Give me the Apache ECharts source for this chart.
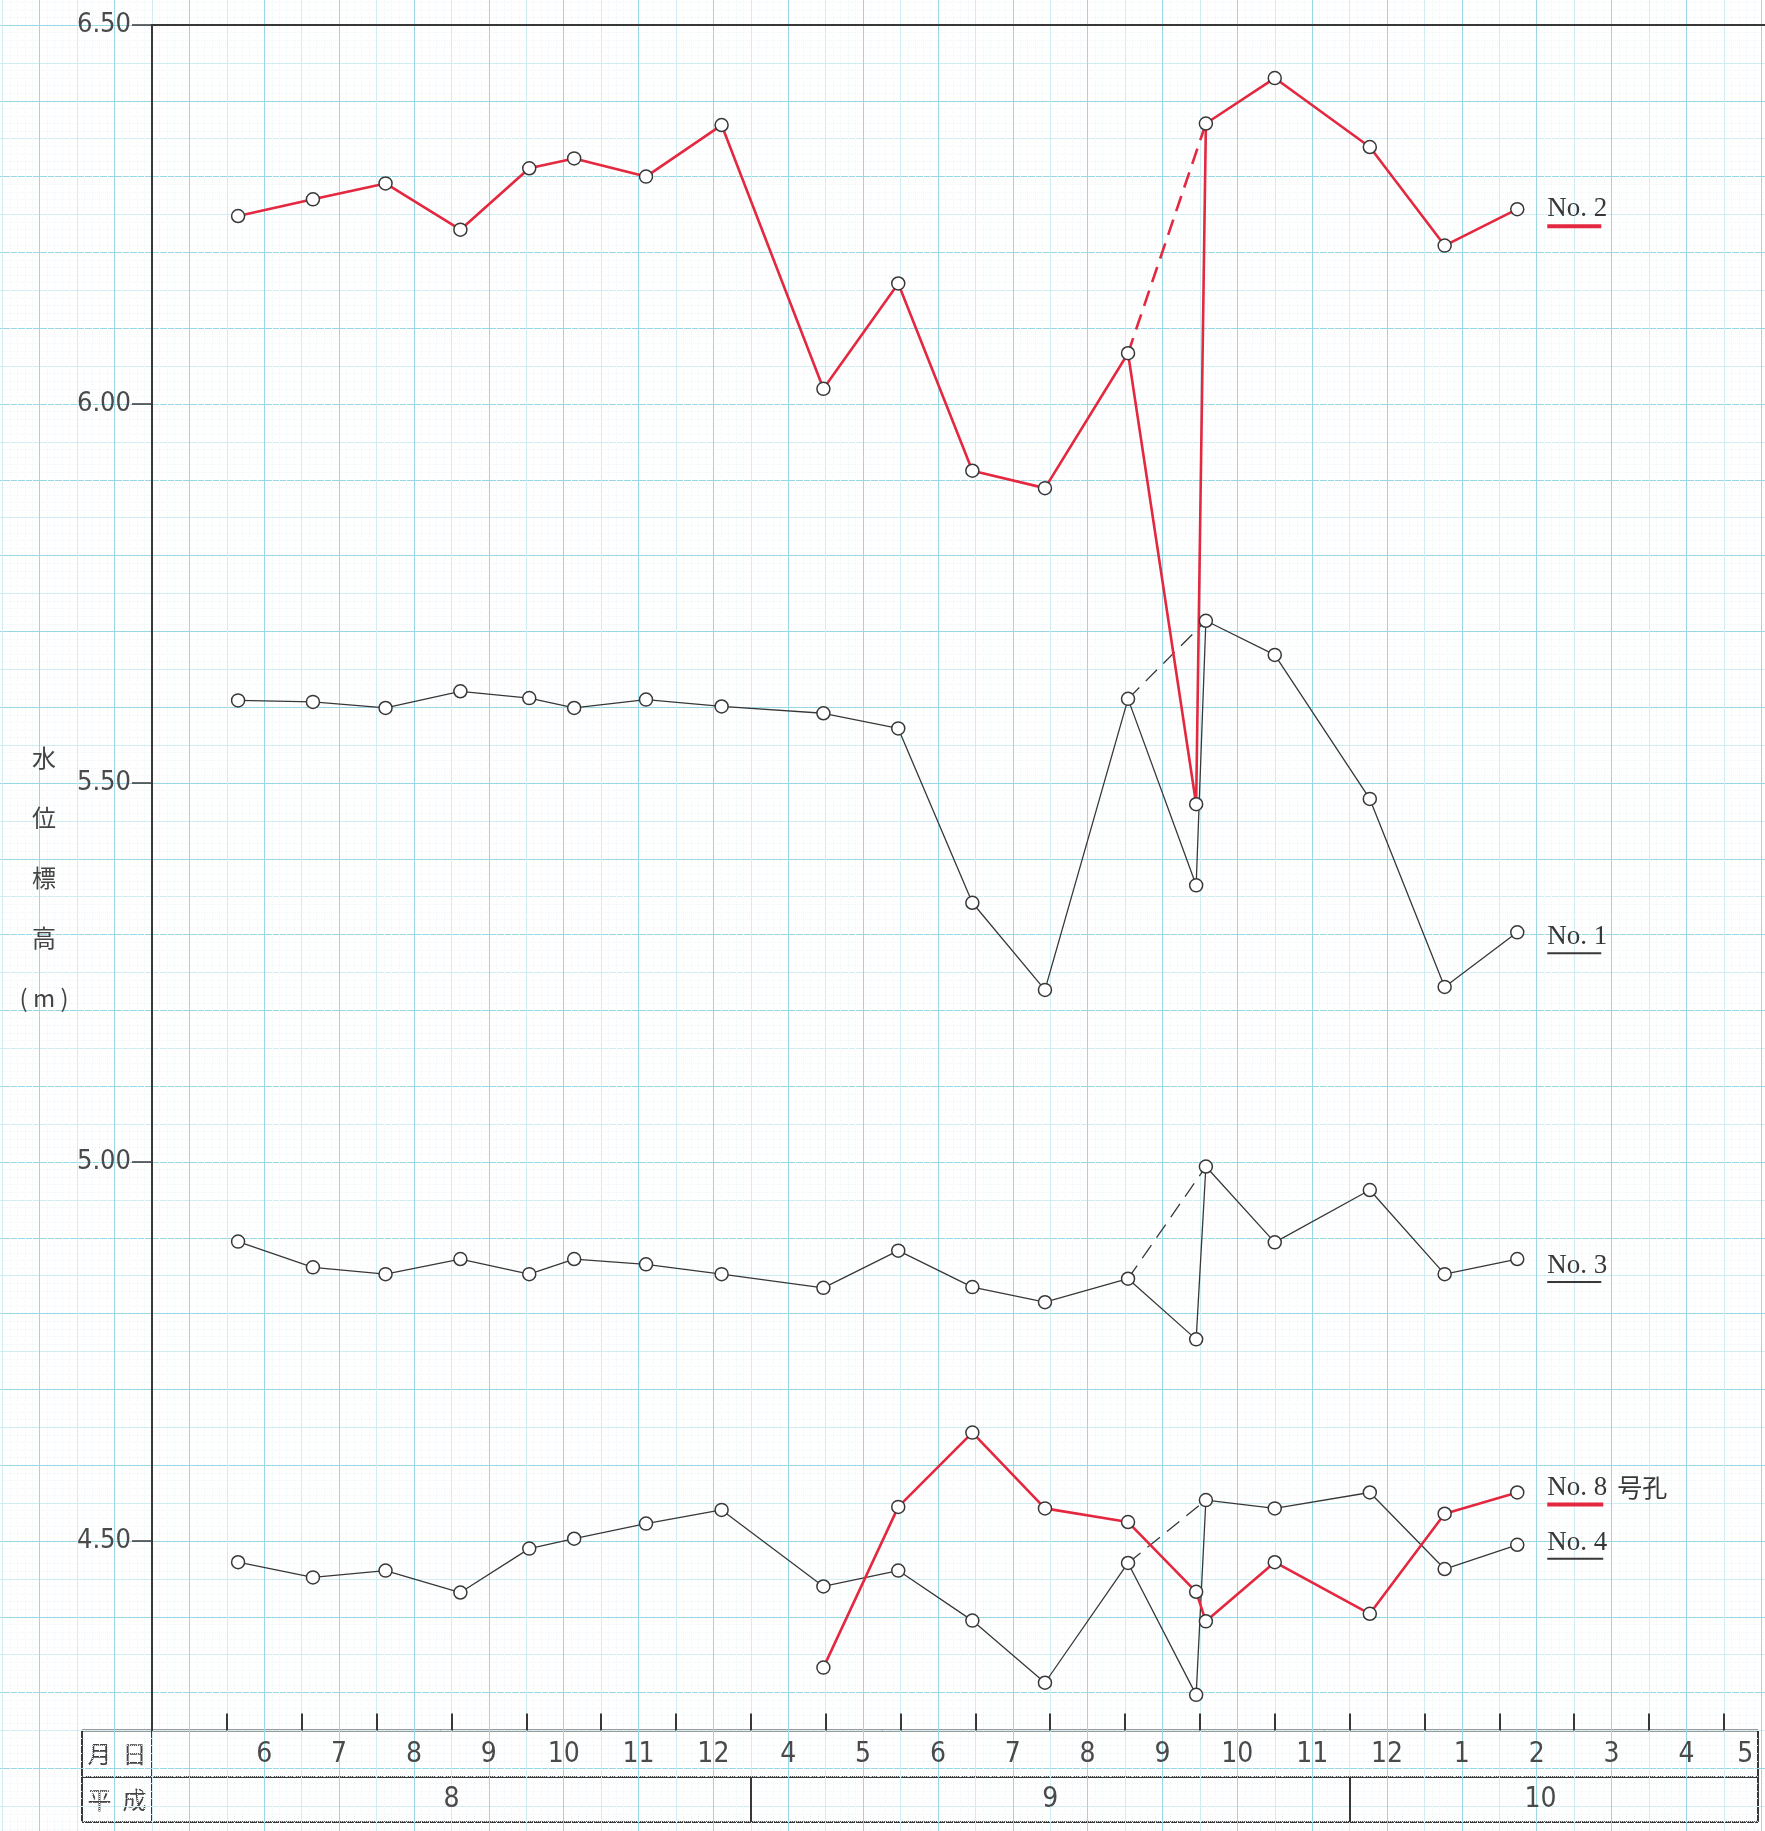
<!DOCTYPE html>
<html><head><meta charset="utf-8">
<script src="https://cdn.jsdelivr.net/npm/echarts@6/dist/echarts.min.js"></script>
<style>html,body{margin:0;padding:0;background:#fff;overflow:hidden}#c{width:1765px;height:1831px}</style>
</head><body><div id="c"></div>
<script>
// ---------------- data ----------------
// month columns along the x axis (column 0 is blank; H8 6..12, H9 4..12, H10 1..5)
const monthLabels = ['', '6','7','8','9','10','11','12','4','5','6','7','8','9','10','11','12','1','2','3','4','5'];
// Heisei year row
const yearLabels = ['8', '9', '10'];
const yearCenters = [4, 12, 18.55];
const yearBounds = [8, 16];
// y axis tick labels (m)
const yTicks = [4.5, 5.0, 5.5, 6.0, 6.5];
// measurement dates expressed as position in month columns
const dateCols = [1.15, 2.15, 3.12, 4.12, 5.04, 5.64, 6.60, 7.61, 8.97, 9.97, 10.96, 11.93, 13.04, 13.95, 14.08, 15.00, 16.27, 17.27, 18.24];
// water level elevations (m)
const no2 = [6.248, 6.270, 6.291, 6.230, 6.311, 6.324, 6.300, 6.368, 6.020, 6.159, 5.912, 5.889, 6.067, 5.472, 6.370, 6.430, 6.339, 6.209, 6.257];
const no1 = [5.609, 5.607, 5.599, 5.621, 5.612, 5.599, 5.610, 5.601, 5.592, 5.572, 5.342, 5.227, 5.611, 5.365, 5.714, 5.669, 5.479, 5.231, 5.303];
const no3 = [4.895, 4.861, 4.852, 4.872, 4.852, 4.872, 4.865, 4.852, 4.834, 4.883, 4.835, 4.815, 4.846, 4.766, 4.994, 4.894, 4.963, 4.852, 4.872];
const no4 = [4.472, 4.452, 4.461, 4.432, 4.490, 4.503, 4.523, 4.541, 4.440, 4.461, 4.395, 4.313, 4.471, 4.297, 4.554, 4.543, 4.564, 4.463, 4.495];
const no8 = [null, null, null, null, null, null, null, null, 4.333, 4.545, 4.643, 4.543, 4.525, 4.433, 4.394, 4.472, 4.404, 4.536, 4.564];
// dashed bypass: from this date index to that one
const dashFrom = 12, dashTo = 14;

// ---------------- layout ----------------
const X0 = 152, COL = 74.85, Y0 = 25, PXM = 758, YMIN = 4.25, YMAX = 6.5;
const NCOL = monthLabels.length;
const TL = 82, TR = 1758, R1 = Y0 + (YMAX - YMIN) * PXM, R2 = 1777, R3 = 1822;
const RED = '#e3283f', INK = '#383838';
const NUMFONT = '"Liberation Sans Narrow", "DejaVu Sans Condensed", sans-serif';
const LBLFONT = '"Liberation Serif", "DejaVu Serif", serif';
const CJK = '"Noto Sans CJK JP", sans-serif';

function pts(vals) {
  return dateCols.map((x, i) => [x, vals[i]]).filter(p => p[1] != null);
}
function dashPts(vals) {
  return [[dateCols[dashFrom], vals[dashFrom]], [dateCols[dashTo], vals[dashTo]]];
}
function lbl(text, color, uw, uh, extra, off) {
  return {
    show: true, distance: 30, offset: off || [0, 0],
    formatter: '{t|' + text + '}' + (extra ? '{k|' + extra + '}' : '') + '\n{u| }',
    rich: {
      t: {fontFamily: LBLFONT, fontSize: 27, color: INK, lineHeight: 30},
      k: {fontFamily: CJK, fontSize: 25, color: INK, lineHeight: 30, padding: [0, 0, 0, 10]},
      u: {width: uw, height: uh, backgroundColor: color, lineHeight: uh, fontSize: 1}
    }
  };
}
function lineSeries(name, vals, color, width, label) {
  return {
    name, type: 'line', xAxisIndex: 2, yAxisIndex: 2, data: pts(vals),
    lineStyle: {color, width}, symbol: 'circle', symbolSize: 13, showAllSymbol: true,
    itemStyle: {color: '#fff', borderColor: INK, borderWidth: 1.5},
    endLabel: label, emphasis: {disabled: true}, silent: true, z: 3
  };
}
function dashSeries(vals, color, width) {
  return {
    type: 'line', xAxisIndex: 2, yAxisIndex: 2, data: dashPts(vals), symbol: 'none',
    lineStyle: {color, width, type: [16, 9]}, emphasis: {disabled: true}, silent: true, z: 2
  };
}

const paperX = (interval, color, minor) => ({
  gridIndex: 0, type: 'value', min: -2.5, max: NCOL, interval,
  axisLine: {show: false}, axisTick: {show: false}, axisLabel: {show: false},
  splitLine: {show: true, lineStyle: {color, width: 1}},
  minorTick: {show: false, splitNumber: 5},
  minorSplitLine: {show: !!minor, lineStyle: {color: '#ebf7f9', width: 1, type: 'dotted'}}
});
const paperY = (interval, color, minor) => ({
  gridIndex: 0, type: 'value', min: 4.0, max: 7.0, interval,
  axisLine: {show: false}, axisTick: {show: false}, axisLabel: {show: false},
  splitLine: {show: true, lineStyle: {color, width: 1}},
  minorTick: {show: false, splitNumber: 5},
  minorSplitLine: {show: !!minor, lineStyle: {color: '#ebf7f9', width: 1, type: 'dotted'}}
});

const option = {
  backgroundColor: '#ffffff',
  animation: false,
  grid: [
    {left: X0 - 2.5 * COL, top: Y0 - 0.5 * PXM, width: (NCOL + 2.5) * COL, height: 3 * PXM,
      containLabel: false, outerBoundsMode: 'none'},
    {left: X0, top: Y0, width: NCOL * COL, height: (YMAX - YMIN) * PXM,
      containLabel: false, outerBoundsMode: 'none'}
  ],
  xAxis: [
    paperX(0.5, '#cfedf3', true),
    paperX(1, '#9ad7e5', false),
    { // main value axis (month ticks)
      gridIndex: 1, type: 'value', min: 0, max: NCOL, position: 'bottom',
      axisLine: {show: false}, axisLabel: {show: false}, splitLine: {show: false},
      axisTick: {show: true, inside: true, length: 17, lineStyle: {color: INK, width: 2},
        customValues: monthLabels.slice(1).map((_, i) => i + 1)}
    },
    { // month labels
      gridIndex: 1, type: 'category', data: monthLabels, position: 'bottom', boundaryGap: true,
      axisLine: {show: false}, axisTick: {show: false}, splitLine: {show: false},
      axisLabel: {interval: 0, margin: 10,
        formatter: (v, i) => (i === NCOL - 1 ? '{s|' + v + '}' : '{m|' + v + '}'),
        rich: {
          m: {fontFamily: NUMFONT, fontSize: 28, color: '#4a4a4a'},
          s: {fontFamily: NUMFONT, fontSize: 28, color: '#4a4a4a', padding: [0, 32, 0, 0]}
        }}
    },
    { // Heisei year row
      gridIndex: 1, type: 'value', min: 0, max: NCOL, position: 'bottom', offset: R2 - R1,
      axisLine: {show: false}, splitLine: {show: false},
      axisTick: {show: true, length: R3 - R2, lineStyle: {color: INK, width: 2}, customValues: yearBounds},
      axisLabel: {customValues: yearCenters, margin: 9, fontFamily: NUMFONT, fontSize: 28, color: '#4a4a4a',
        formatter: v => yearLabels[yearCenters.indexOf(v)]}
    },
    { // top frame line
      gridIndex: 1, type: 'value', min: 0, max: NCOL, position: 'top',
      axisLine: {show: true, lineStyle: {color: INK, width: 2}},
      axisTick: {show: false}, axisLabel: {show: false}, splitLine: {show: false}
    }
  ],
  yAxis: [
    paperY(0.05, '#cfedf3', true),
    paperY(0.1, '#9ad7e5', false),
    {
      gridIndex: 1, type: 'value', min: YMIN, max: YMAX, position: 'left',
      axisLine: {show: true, lineStyle: {color: INK, width: 2}},
      axisTick: {show: true, length: 20, lineStyle: {color: INK, width: 1.5}, customValues: yTicks},
      axisLabel: {customValues: yTicks, margin: 21, fontFamily: NUMFONT, fontSize: 27, color: '#4a4a4a',
        formatter: v => v.toFixed(2)},
      splitLine: {show: false},
      name: '水\n位\n標\n高\n( m )', nameLocation: 'middle', nameGap: 108, nameRotate: 0,
      nameTextStyle: {fontFamily: CJK, fontSize: 24, lineHeight: 60, color: '#444', align: 'center',
        verticalAlign: 'middle', padding: [0, 0, 26, 0]}
    }
  ],
  series: [
    dashSeries(no1, INK, 1.3),
    dashSeries(no3, INK, 1.3),
    dashSeries(no4, INK, 1.3),
    dashSeries(no2, RED, 2.6),
    lineSeries('No.1', no1, INK, 1.3, lbl('No. 1', INK, 54, 2, null, [0, 6])),
    lineSeries('No.3', no3, INK, 1.3, lbl('No. 3', INK, 54, 2, null, [0, 8])),
    lineSeries('No.4', no4, INK, 1.3, lbl('No. 4', INK, 56, 2, null, [0, -1])),
    lineSeries('No.2', no2, RED, 2.6, lbl('No. 2', RED, 54, 4, null, [0, 2])),
    lineSeries('No.8', no8, RED, 2.6, lbl('No. 8', RED, 56, 4, '号孔', [0, -3]))
  ],
  graphic: [
    {type: 'line', shape: {x1: TL, y1: R1, x2: TR, y2: R1}, style: {stroke: INK, lineWidth: 2}},
    {type: 'line', shape: {x1: TL, y1: R2, x2: TR, y2: R2}, style: {stroke: INK, lineWidth: 2}},
    {type: 'line', shape: {x1: TL, y1: R3, x2: TR, y2: R3}, style: {stroke: INK, lineWidth: 2}},
    {type: 'line', shape: {x1: TL, y1: R1, x2: TL, y2: R3}, style: {stroke: INK, lineWidth: 2}},
    {type: 'line', shape: {x1: X0, y1: R1, x2: X0, y2: R3}, style: {stroke: INK, lineWidth: 2}},
    {type: 'line', shape: {x1: TR, y1: R1, x2: TR, y2: R3}, style: {stroke: INK, lineWidth: 2}},
    {type: 'text', x: (TL + X0) / 2, y: (R1 + R2) / 2, style: {text: '月  日', font: '24px ' + CJK, fill: '#444', align: 'center', verticalAlign: 'middle'}},
    {type: 'text', x: (TL + X0) / 2, y: (R2 + R3) / 2, style: {text: '平  成', font: '24px ' + CJK, fill: '#444', align: 'center', verticalAlign: 'middle'}}
  ]
};

const chart = echarts.init(document.getElementById('c'), null, {renderer: 'canvas'});
chart.setOption(option);
</script>
</body></html>
